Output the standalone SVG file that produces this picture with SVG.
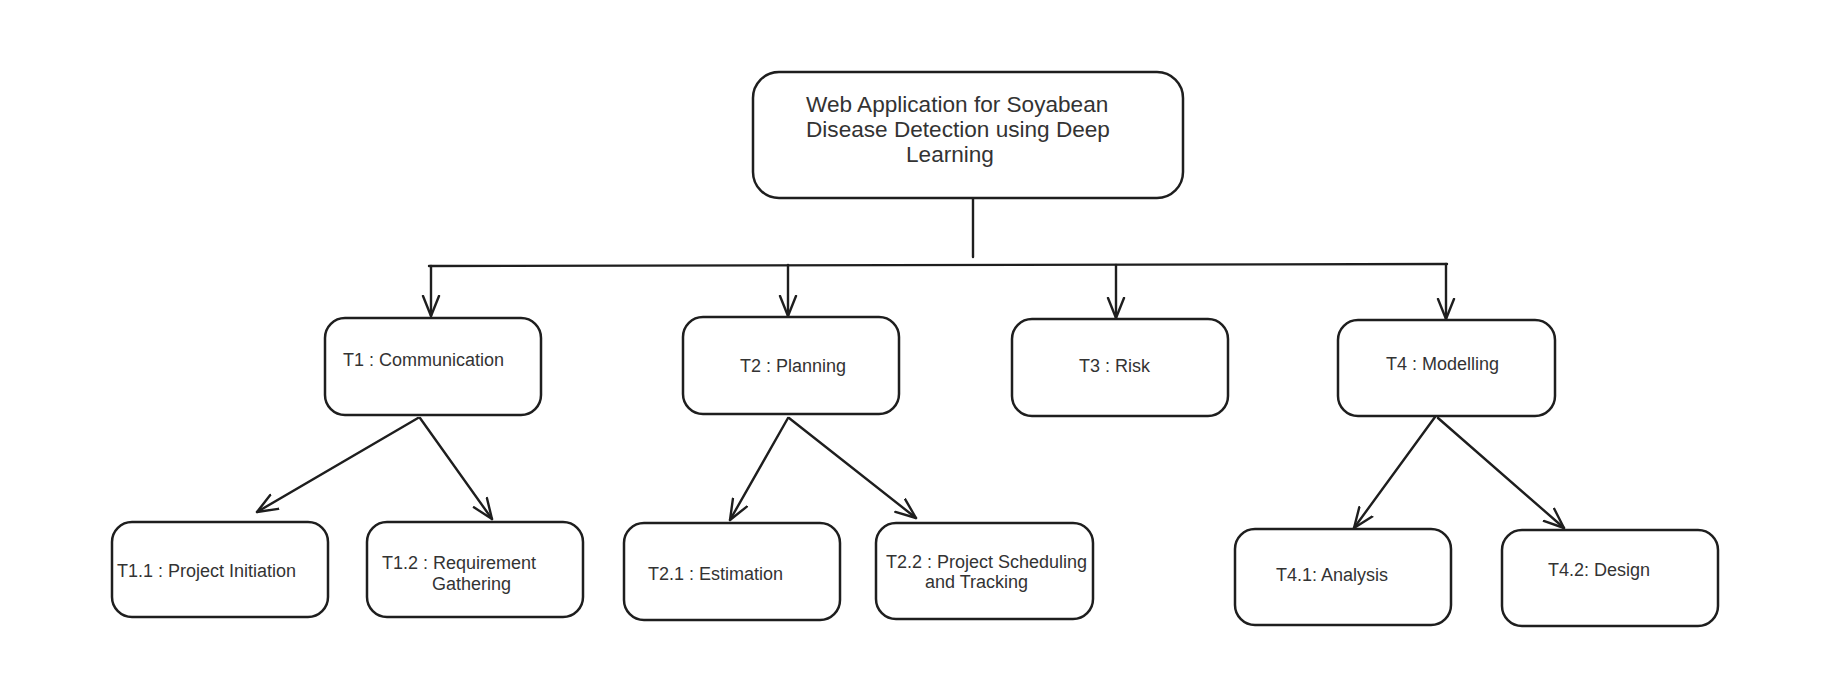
<svg xmlns="http://www.w3.org/2000/svg" width="1839" height="695" viewBox="0 0 1839 695">
<style>
.box{fill:#fff;stroke:#1e1e1e;stroke-width:2.5;}
.t{font-family:"Liberation Sans",Arial,sans-serif;font-size:18px;fill:#333;}
.tr{font-family:"Liberation Sans",Arial,sans-serif;font-size:22.6px;fill:#333;}
.c{fill:none;stroke:#1e1e1e;stroke-width:2.4;stroke-linecap:round;}
</style>
<defs>
<marker id="ah" markerWidth="24" markerHeight="20" viewBox="0 0 24 20" refX="21" refY="10" orient="auto" markerUnits="userSpaceOnUse">
<path d="M1,2 L21,10 L1,18" fill="none" stroke="#1e1e1e" stroke-width="2.4" stroke-linecap="round" stroke-linejoin="round"/>
</marker>
</defs>
<rect width="1839" height="695" fill="#fff"/>
<g id="connectors">
<path class="c" d="M973,198 L973,257"/>
<path class="c" d="M429,266 L1447,264"/>
<path class="c" d="M431,266 L431,316" marker-end="url(#ah)"/>
<path class="c" d="M788,265 L788,316" marker-end="url(#ah)"/>
<path class="c" d="M1116,265 L1116,318" marker-end="url(#ah)"/>
<path class="c" d="M1446,264 L1446,319" marker-end="url(#ah)"/>
<path class="c" d="M418,418 L257,512" marker-end="url(#ah)"/>
<path class="c" d="M420,418 L492,519" marker-end="url(#ah)"/>
<path class="c" d="M788,418 L730,520" marker-end="url(#ah)"/>
<path class="c" d="M789,418 L916,518" marker-end="url(#ah)"/>
<path class="c" d="M1435,417 L1354,528" marker-end="url(#ah)"/>
<path class="c" d="M1438,418 L1564,528" marker-end="url(#ah)"/>
</g>
<g id="root">
<rect class="box" x="753" y="72" width="430" height="126" rx="26"/>
<text class="tr" x="806" y="112">Web Application for Soyabean</text>
<text class="tr" x="806" y="137">Disease Detection using Deep</text>
<text class="tr" x="906" y="162">Learning</text>
</g>
<g id="t1">
<rect class="box" x="325" y="318" width="216" height="97" rx="20"/>
<text class="t" x="343" y="366">T1 : Communication</text>
</g>
<g id="t1-1">
<rect class="box" x="112" y="522" width="216" height="95" rx="20"/>
<text class="t" x="117" y="577">T1.1 : Project Initiation</text>
</g>
<g id="t1-2">
<rect class="box" x="367" y="522" width="216" height="95" rx="20"/>
<text class="t" x="382" y="569">T1.2 : Requirement</text>
<text class="t" x="432" y="590">Gathering</text>
</g>
<g id="t2">
<rect class="box" x="683" y="317" width="216" height="97" rx="20"/>
<text class="t" x="740" y="372">T2 : Planning</text>
</g>
<g id="t2-1">
<rect class="box" x="624" y="523" width="216" height="97" rx="20"/>
<text class="t" x="648" y="580">T2.1 : Estimation</text>
</g>
<g id="t2-2">
<rect class="box" x="876" y="523" width="217" height="96" rx="20"/>
<text class="t" x="886" y="568">T2.2 : Project Scheduling</text>
<text class="t" x="925" y="588">and Tracking</text>
</g>
<g id="t3">
<rect class="box" x="1012" y="319" width="216" height="97" rx="20"/>
<text class="t" x="1079" y="372">T3 : Risk</text>
</g>
<g id="t4">
<rect class="box" x="1338" y="320" width="217" height="96" rx="20"/>
<text class="t" x="1386" y="370">T4 : Modelling</text>
</g>
<g id="t4-1">
<rect class="box" x="1235" y="529" width="216" height="96" rx="20"/>
<text class="t" x="1276" y="581">T4.1: Analysis</text>
</g>
<g id="t4-2">
<rect class="box" x="1502" y="530" width="216" height="96" rx="20"/>
<text class="t" x="1548" y="576">T4.2: Design</text>
</g>
</svg>
